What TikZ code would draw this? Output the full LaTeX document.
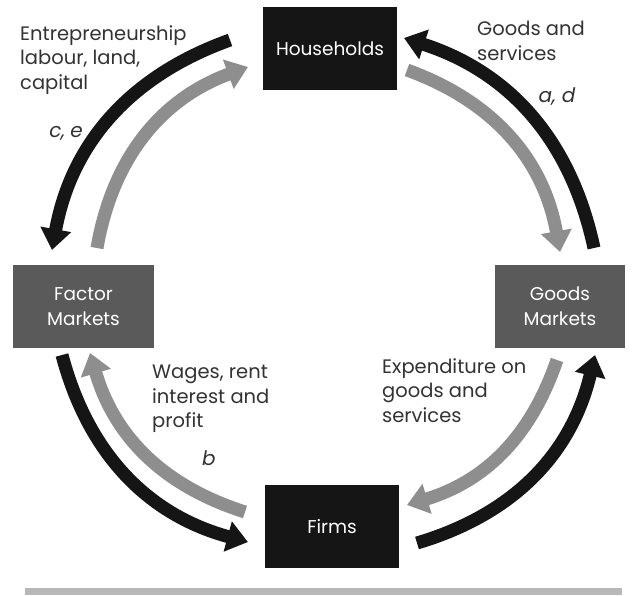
\documentclass[tikz,border=0pt]{standalone}
\usepackage{fontspec}
\setmainfont{Poppins}
\usetikzlibrary{arrows.meta}
\definecolor{boxblack}{HTML}{151515}
\definecolor{boxgrey}{HTML}{5A5A5A}
\definecolor{arrgrey}{HTML}{8E8E8E}
\definecolor{bargrey}{HTML}{B8B8B8}
\definecolor{txt}{HTML}{333333}
\begin{document}
\begin{tikzpicture}[x=1pt,y=1pt,
  sector/.style={text=white, inner sep=0pt, font=\fontsize{18.5}{25}\selectfont, align=center},
  darkbox/.style={sector, fill=boxblack},
  greybox/.style={sector, fill=boxgrey},
  flow/.style={line width=13pt, -{Triangle[width=30pt,length=21pt]}},
  blackflow/.style={flow, draw=boxblack},
  greyflow/.style={flow, draw=arrgrey},
  lbl/.style={text=txt, font=\fontsize{19.5}{24.5}\selectfont, align=left, anchor=north west, inner sep=0pt},
  ital/.style={text=txt, font=\fontsize{20}{24}\selectfont\itshape, inner sep=0pt}]
\useasboundingbox (0,0) rectangle (634,-595);
\fill[white] (0,0) rectangle (634,-595);

% boxes
\node[darkbox, minimum width=134pt, minimum height=83pt] (hh) at (330,-48.5) {Households};
\node[greybox, minimum width=141pt, minimum height=83pt] (fm) at (83.5,-306.5) {Factor\\Markets};
\node[greybox, minimum width=130pt, minimum height=83pt] (gm) at (560,-306.5) {Goods\\Markets};
\node[darkbox, minimum width=134pt, minimum height=83pt] (fi) at (332,-526.5) {Firms};

% arrow end points
\coordinate (bkTLs) at (230,-40);  \coordinate (bkTLe) at (52,-250);
\coordinate (gyTLs) at (97,-248);  \coordinate (gyTLe) at (248,-67);
\coordinate (bkTRs) at (594,-248); \coordinate (bkTRe) at (404,-38);
\coordinate (gyTRs) at (407,-70);  \coordinate (gyTRe) at (560,-252);
\coordinate (bkBLs) at (62,-355);  \coordinate (bkBLe) at (248,-542);
\coordinate (gyBLs) at (245,-512); \coordinate (gyBLe) at (90,-353);
\coordinate (gyBRs) at (557,-360); \coordinate (gyBRe) at (407,-505);
\coordinate (bkBRs) at (417,-543); \coordinate (bkBRe) at (595,-355);

\draw[blackflow] (bkTLs) to[bend right=30] (bkTLe);
\draw[greyflow]  (gyTLs) to[bend left=30] (gyTLe);
\draw[blackflow] (bkTRs) to[bend right=30] (bkTRe);
\draw[greyflow]  (gyTRs) to[bend left=30] (gyTRe);
\draw[blackflow] (bkBLs) to[bend right=30] (bkBLe);
\draw[greyflow]  (gyBLs) to[bend left=28] (gyBLe);
\draw[greyflow]  (gyBRs) to[bend left=27] (gyBRe);
\draw[blackflow] (bkBRs) to[bend right=30] (bkBRe);

% labels
\node[lbl] (l1) at (20,-25) {Entrepreneurship\\labour, land,\\capital};
\node[ital] (l2) at (66,-133) {c,\hspace{5pt}e};
\node[lbl] (l3) at (477,-21) {Goods and\\services};
\node[ital] (l4) at (557,-97) {a,\hspace{6pt}d};
\node[lbl] (l5) at (152,-365) {Wages, rent\\interest and\\profit};
\node[ital] (l6) at (209,-458) {b};
\node[lbl] (l7) at (382,-358) {Expenditure on\\goods and\\services};

\fill[bargrey] (25,-588) rectangle (622,-595);
\end{tikzpicture}
\end{document}
